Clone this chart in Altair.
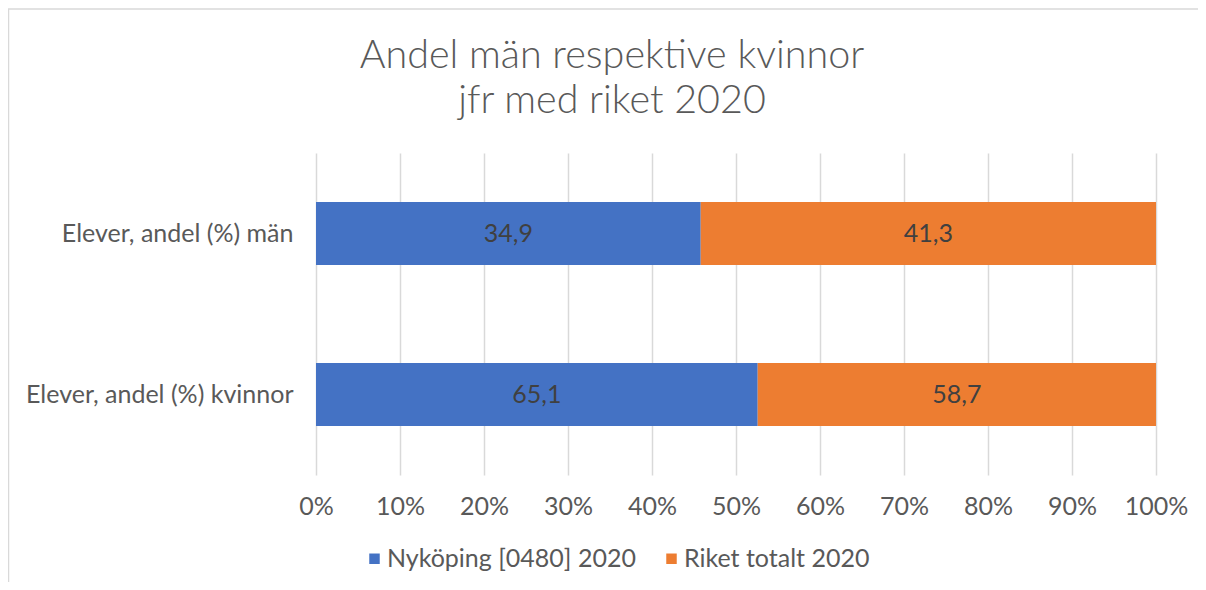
import altair as alt
import pandas as pd

categories = ["Elever, andel (%) män", "Elever, andel (%) kvinnor"]
series = ["Nyköping [0480] 2020", "Riket totalt 2020"]
nykoping = [34.9, 65.1]
riket = [41.3, 58.7]
labels = {34.9: "34,9", 65.1: "65,1", 41.3: "41,3", 58.7: "58,7"}
title_lines = ["Andel män respektive kvinnor", "jfr med riket 2020"]

rows = []
for i, c in enumerate(categories):
    for j, (s, v) in enumerate(zip(series, [nykoping[i], riket[i]])):
        rows.append({"cat": c, "series": s, "order": j, "value": v, "label": labels[v]})
df = pd.DataFrame(rows)

FONT = "Lato"
GREY = "#595959"
FS = 25

base = alt.Chart(df).transform_stack(
    stack="value", groupby=["cat"], as_=["x0", "x1"], offset="normalize",
    sort=[alt.SortField("order", order="ascending")]
).transform_calculate(mid="(datum.x0 + datum.x1) / 2")

x_scale = alt.Scale(domain=[0, 1], nice=False)
x_axis = alt.Axis(format="%", values=[i / 10 for i in range(11)],
                  labelOverlap=False, labelFlush=False, ticks=False, domain=False,
                  grid=True, gridColor="#d9d9d9", gridWidth=1.5, labelFontSize=FS,
                  labelColor=GREY, labelFont=FONT, labelPadding=19)
y_scale = alt.Scale(paddingInner=0.61, paddingOuter=0.305)
y_axis = alt.Axis(ticks=False, domain=False, labelFontSize=FS, labelColor=GREY,
                  labelFont=FONT, labelPadding=23, labelLimit=400, grid=False)

bars = base.mark_bar().encode(
    x=alt.X("x0:Q", title=None, scale=x_scale, axis=x_axis),
    x2="x1:Q",
    y=alt.Y("cat:N", sort=categories, title=None, scale=y_scale, axis=y_axis),
    color=alt.Color("series:N", sort=series,
                    scale=alt.Scale(domain=series, range=["#4472C4", "#ED7D31"]),
                    legend=alt.Legend(title=None, orient="none", direction="horizontal",
                                      legendX=46, legendY=393, symbolType="square",
                                      symbolSize=110, symbolStrokeWidth=0, labelFontSize=FS,
                                      labelColor=GREY, labelFont=FONT, labelOffset=0,
                                      columnPadding=23, labelLimit=400)),
)

text = base.mark_text(fontSize=FS, color="#404040", font=FONT).encode(
    x=alt.X("mid:Q", title=None, scale=x_scale, axis=x_axis),
    y=alt.Y("cat:N", sort=categories, title=None, scale=y_scale, axis=y_axis),
    text="label:N")

title_df = pd.DataFrame({"t": title_lines, "i": [0, 1]})
title1 = alt.Chart(title_df).transform_filter("datum.i == 0").mark_text(
    fontSize=39.5, font=FONT, fontWeight=300, color=GREY, baseline="alphabetic",
    align="center").encode(text="t:N", x=alt.value(296), y=alt.value(-85))
title2 = alt.Chart(title_df).transform_filter("datum.i == 1").mark_text(
    fontSize=39.5, font=FONT, fontWeight=300, color=GREY, baseline="alphabetic",
    align="center").encode(text="t:N", x=alt.value(296), y=alt.value(-40))

border_df = pd.DataFrame({"k": [0]})
top_line = alt.Chart(border_df).mark_rule(color="#d9d9d9", strokeWidth=1.5).encode(
    x=alt.value(-308), x2=alt.value(900), y=alt.value(-144))
left_line = alt.Chart(border_df).mark_rule(color="#d9d9d9", strokeWidth=1.5).encode(
    x=alt.value(-307.5), y=alt.value(-144), y2=alt.value(440))

chart = alt.layer(top_line, left_line, title1, title2, bars, text).properties(
    width=840, height=322,
    autosize=alt.AutoSizeParams(type="none"),
    padding={"left": 308, "top": 145, "right": 42, "bottom": 107},
).configure_view(stroke=None)

chart.save("out.html", embed_options={"renderer": "svg", "actions": False})
